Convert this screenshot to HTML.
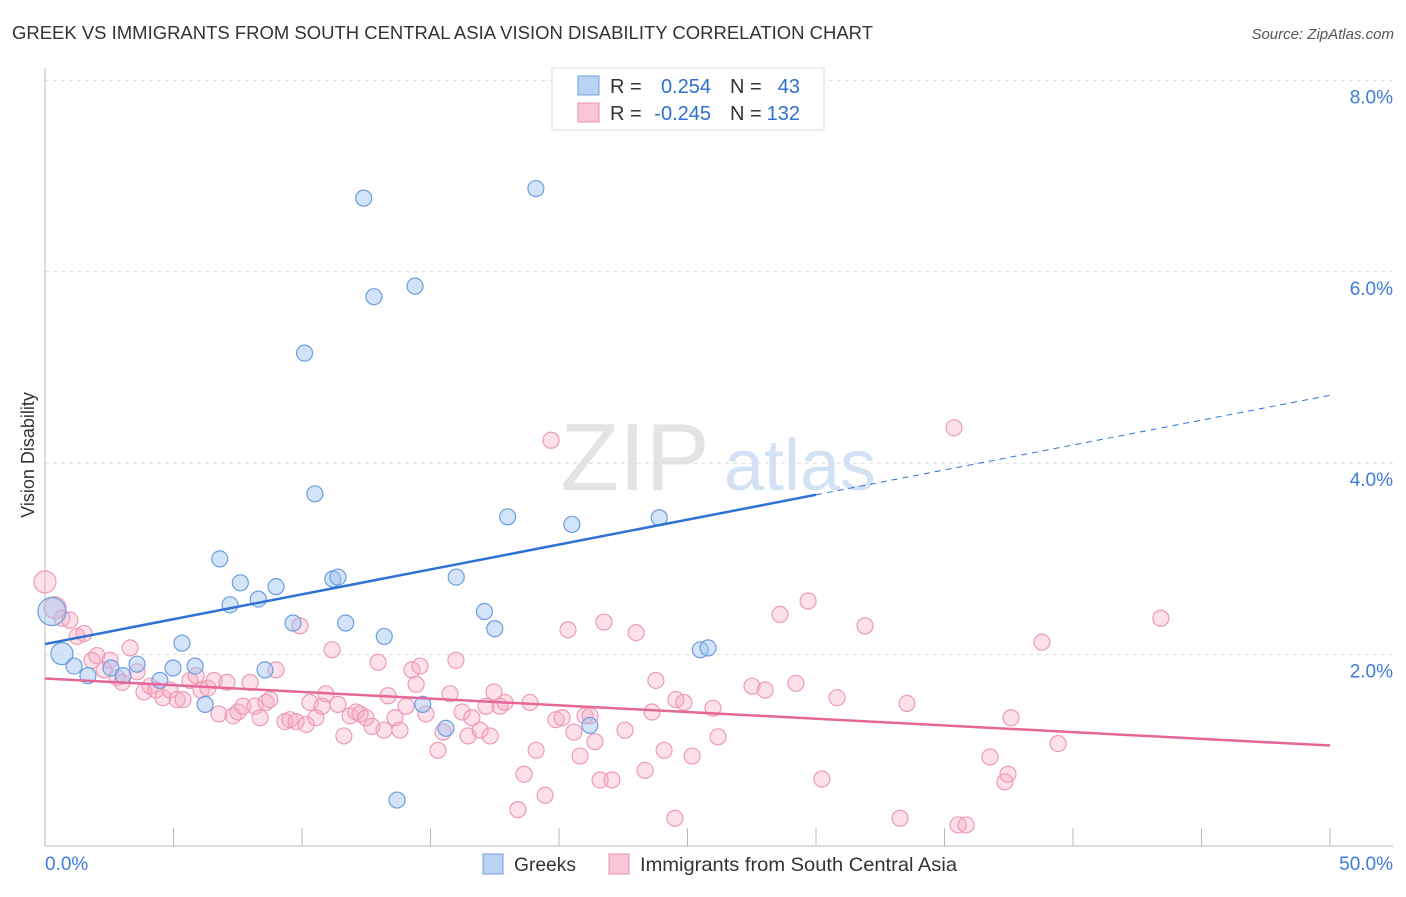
<!DOCTYPE html>
<html><head><meta charset="utf-8"><style>
body{margin:0;background:#fff;font-family:"Liberation Sans",sans-serif;}
svg text{font-family:"Liberation Sans",sans-serif;}
</style></head><body>
<svg id="c" width="1406" height="892" viewBox="0 0 1406 892">
<text x="12" y="39" font-size="18" fill="#333" textLength="861" lengthAdjust="spacingAndGlyphs">GREEK VS IMMIGRANTS FROM SOUTH CENTRAL ASIA VISION DISABILITY CORRELATION CHART</text>
<text x="1394" y="39" font-size="15" fill="#555" font-style="italic" text-anchor="end">Source: ZipAtlas.com</text>
<text x="34" y="455" font-size="18" fill="#333" transform="rotate(-90 34 455)" text-anchor="middle">Vision Disability</text>
<g><text x="635" y="490" font-size="96" fill="#e4e4e4" font-family="Liberation Serif" text-anchor="middle">ZIP</text><text x="800" y="490" font-size="72" fill="#d2e2f4" text-anchor="middle">atlas</text></g>
<g id="grid"></g><g id="axes"></g><g id="pts"></g><g id="trend"></g>
<g>
<rect x="552" y="68" width="272" height="62" fill="#fff" stroke="#ddd"/>
<rect x="578" y="76" width="21" height="19" fill="#b9d3f5" stroke="#6fa0e0"/>
<rect x="578" y="103" width="21" height="19" fill="#f9c6d5" stroke="#ea90ad"/>
<text x="610" y="93" font-size="20" fill="#333">R =</text><text x="711" y="93" font-size="20" fill="#2f6fd0" text-anchor="end">0.254</text>
<text x="730" y="93" font-size="20" fill="#333">N =</text><text x="800" y="93" font-size="20" fill="#2f6fd0" text-anchor="end">43</text>
<text x="610" y="120" font-size="20" fill="#333">R =</text><text x="711" y="120" font-size="20" fill="#2f6fd0" text-anchor="end">-0.245</text>
<text x="730" y="120" font-size="20" fill="#333">N =</text><text x="800" y="120" font-size="20" fill="#2f6fd0" text-anchor="end">132</text>
</g>
<g>
<rect x="483" y="854" width="20" height="20" fill="#b9d3f5" stroke="#6fa0e0"/><text x="514" y="871" font-size="19.5" fill="#333" textLength="62" lengthAdjust="spacingAndGlyphs">Greeks</text>
<rect x="609" y="854" width="20" height="20" fill="#f9c6d5" stroke="#ea90ad"/><text x="640" y="871" font-size="19.5" fill="#333" textLength="317" lengthAdjust="spacingAndGlyphs">Immigrants from South Central Asia</text>
</g>
</svg>
<script>
const NS="http://www.w3.org/2000/svg";
const yTicks=[2,4,6,8];
const yTickLabels=["2.0%","4.0%","6.0%","8.0%"];
const xTickLabels=["0.0%","50.0%"];
const greeksX=[12.4,19.1,12.8,14.4,10.1,10.5,18.0,20.5,23.9,6.8,7.6,8.99,11.2,11.4,16.0,7.2,8.3,9.65,11.7,13.2,17.1,17.5,5.33,0.66,1.13,1.67,2.57,3.04,3.58,4.47,4.98,5.84,6.23,8.56,14.7,15.6,21.2,25.5,25.8,13.7,0.27];
const greeksY=[6.77,6.87,5.74,5.85,5.15,3.68,3.44,3.36,3.43,3.0,2.75,2.71,2.79,2.81,2.81,2.52,2.58,2.33,2.33,2.19,2.45,2.27,2.12,2.01,1.88,1.78,1.86,1.78,1.9,1.73,1.86,1.88,1.48,1.84,1.48,1.23,1.26,2.05,2.07,0.48,2.45];
const greeksR=[8,8,8,8,8,8,8,8,8,8,8,8,8,8,8,8,8,8,8,8,8,8,8,11,8,8,8,8,8,8,8,8,8,8,8,8,8,8,8,8,14];
const asiaPx=[[45,582],[55,608],[62,618],[70,620],[77,636],[84,634],[92,660],[97,656],[104,670],[110,660],[117,678],[122,682],[130,648],[137,672],[144,692],[150,686],[156,690],[163,698],[170,690],[177,700],[183,700],[190,680],[196,676],[201,690],[208,688],[214,680],[219,714],[227,682],[233,716],[238,712],[243,706],[250,682],[255,706],[260,718],[266,702],[270,700],[276,670],[285,722],[290,720],[296,722],[300,626],[306,724],[310,702],[316,718],[322,706],[326,694],[332,650],[338,704],[344,736],[350,716],[356,712],[360,714],[366,718],[372,726],[378,662],[384,730],[388,696],[395,718],[400,730],[406,706],[412,670],[416,684],[420,666],[426,714],[438,750],[443,732],[450,694],[456,660],[462,712],[468,736],[472,718],[480,730],[486,706],[490,736],[494,692],[500,706],[505,702],[518,810],[524,774],[530,702],[536,750],[545,795],[551,440],[556,720],[562,718],[568,630],[574,732],[580,756],[585,716],[590,716],[595,742],[600,780],[604,622],[612,780],[625,730],[636,633],[645,770],[652,712],[656,680],[664,750],[675,818],[676,700],[684,702],[692,756],[713,708],[718,737],[752,686],[765,690],[780,614],[796,683],[808,601],[822,779],[837,698],[865,626],[900,818],[907,703],[954,428],[958,825],[966,825],[990,757],[1005,782],[1008,774],[1011,718],[1042,642],[1058,744],[1161,618]];
const asiaX=asiaPx.map(p=>+((p[0]-45)/1285*50).toFixed(2));
const asiaY=asiaPx.map(p=>+((846-p[1])/95.7).toFixed(2));
const greeksTrend=[[0,2.11],[30,3.67],[50,4.71]];
const asiaTrend=[[0,1.75],[50,1.05]];
const X0=45,X1=1330,Y0=846,PX=95.7;
const sx=v=>X0+(v/50)*(X1-X0), sy=v=>Y0-v*PX;
function mk(t,a,p){const e=document.createElementNS(NS,t);for(const k in a)e.setAttribute(k,a[k]);(p||document.getElementById('c')).appendChild(e);return e;}
const grid=document.getElementById('grid'),axes=document.getElementById('axes'),pts=document.getElementById('pts'),tr=document.getElementById('trend');
yTicks.forEach((v,i)=>{
 const l=mk('line',{x1:45,x2:1393,y1:sy(v),y2:sy(v),stroke:'#ddd','stroke-dasharray':'4,4'},grid);
 
 
 const t=mk('text',{x:1393,y:sy(v)+23,'font-size':19,fill:'#3f7bd8','text-anchor':'end'},axes);t.textContent=yTickLabels[i];
 
 
});
mk('line',{x1:45,x2:45,y1:68,y2:846,stroke:'#bbb'},axes);
mk('line',{x1:45,x2:1393,y1:846,y2:846,stroke:'#bbb'},axes);
for(let i=0;i<=10;i++){const x=sx(i*5);mk('line',{x1:x,x2:x,y1:828,y2:846,stroke:'#bbb'},axes);}
[0,50].forEach((v,i)=>{const t=mk('text',{x:i?1393:45,y:870,'font-size':19,fill:'#3f7bd8','text-anchor':i?'end':'start'},axes);t.textContent=xTickLabels[i];
 
 });
asiaX.forEach((x,i)=>{const c=mk('circle',{cx:sx(x),cy:sy(asiaY[i]),r:i<2?11:8,fill:'rgba(246,170,195,0.35)',stroke:'#ee9ab5','stroke-width':1.2},pts);
 
 });
greeksX.forEach((x,i)=>{const c=mk('circle',{cx:sx(x),cy:sy(greeksY[i]),r:greeksR[i],fill:'rgba(160,195,240,0.45)',stroke:'#6b9de0','stroke-width':1.2},pts);
 
 });
let g1=mk('line',{x1:sx(greeksTrend[0][0]),y1:sy(greeksTrend[0][1]),x2:sx(greeksTrend[1][0]),y2:sy(greeksTrend[1][1]),stroke:'#2f72d6','stroke-width':2.5},tr);


let g2=mk('line',{x1:sx(greeksTrend[1][0]),y1:sy(greeksTrend[1][1]),x2:sx(greeksTrend[2][0]),y2:sy(greeksTrend[2][1]),stroke:'#2f72d6','stroke-width':1,'stroke-dasharray':'6,5'},tr);


let a1=mk('line',{x1:sx(asiaTrend[0][0]),y1:sy(asiaTrend[0][1]),x2:sx(asiaTrend[1][0]),y2:sy(asiaTrend[1][1]),stroke:'#e5679a','stroke-width':2.5},tr);


</script>
</body></html>
